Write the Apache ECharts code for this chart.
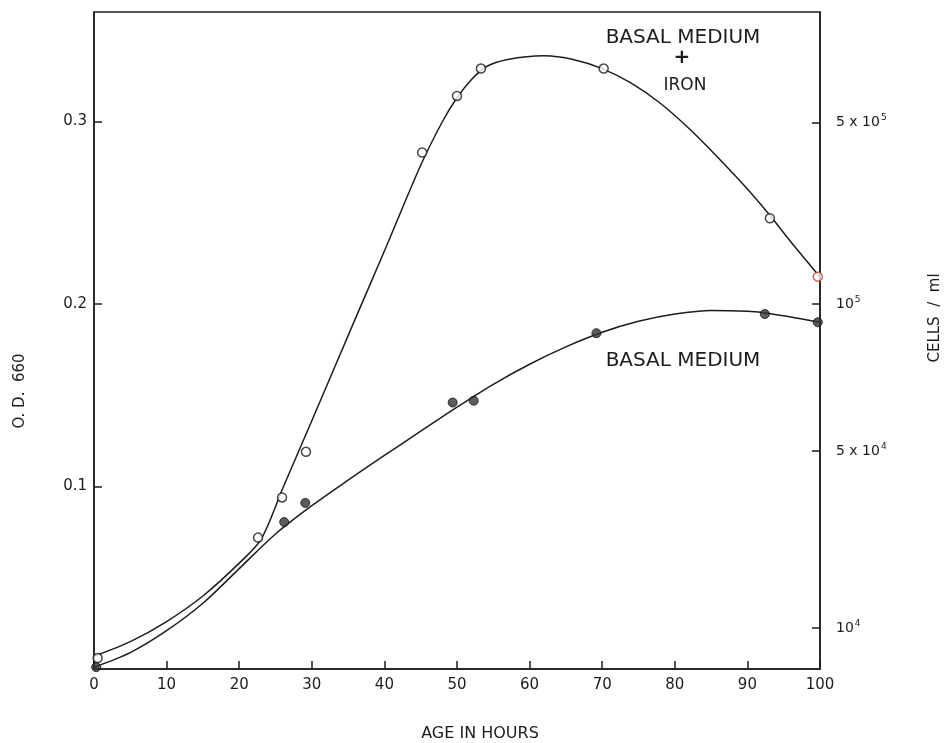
<!DOCTYPE html>
<html>
<head>
<meta charset="utf-8">
<script src="https://cdn.jsdelivr.net/npm/echarts@6/dist/echarts.min.js"></script>
<style>
  html, body { margin: 0; padding: 0; background: #ffffff; }
  #chart { width: 952px; height: 743px; }
</style>
</head>
<body>
<div id="chart"></div>
<script>
// Measured points: basal medium + iron (open circles)
const ironHours = [0.5, 22.6, 25.9, 29.2, 45.2, 50.0, 53.3, 70.2, 93.1, 99.7];
const ironOD    = [0.006, 0.072, 0.094, 0.119, 0.283, 0.314, 0.329, 0.329, 0.247, 0.215];

// Measured points: basal medium (filled circles)
const basalHours = [0.3, 26.2, 29.1, 49.4, 52.3, 69.2, 92.4, 99.7];
const basalOD    = [0.001, 0.0805, 0.091, 0.146, 0.147, 0.184, 0.1945, 0.190];

// Hand-fitted growth curves
const ironCurveHours = [0, 5, 10, 15, 20, 23, 26, 30, 36, 40, 45, 48, 50, 52, 54, 57, 62, 66, 70, 74, 78, 82, 86, 90, 93, 96, 100];
const ironCurveOD    = [0.007, 0.015, 0.026, 0.040, 0.058, 0.071, 0.099, 0.136, 0.192, 0.229, 0.276, 0.300, 0.313, 0.323, 0.330, 0.334, 0.336, 0.334, 0.329, 0.321, 0.310, 0.296, 0.280, 0.263, 0.249, 0.234, 0.2148];

const basalCurveHours = [0, 5, 10, 15, 20, 25, 30, 35, 40, 45, 50, 55, 60, 65, 70, 75, 80, 85, 90, 93, 100];
const basalCurveOD    = [0.001, 0.009, 0.021, 0.036, 0.055, 0.074, 0.0895, 0.1035, 0.117, 0.1303, 0.1435, 0.156, 0.167, 0.1765, 0.1845, 0.1905, 0.1945, 0.1965, 0.196, 0.1948, 0.190];

// Cell-count scale on the right, placed at its O.D. equivalents
const cellTickOD     = [0.0225, 0.1195, 0.2, 0.2995];
const cellTickBase   = ['10', '5 x 10', '10', '5 x 10'];
const cellTickExp    = ['4', '4', '5', '5'];

const odTicks = [0.1, 0.2, 0.3];

const FONT = 'DejaVu Sans';
const INK = '#1c1c1c';

const zip = (xs, ys) => xs.map((x, i) => [x, ys[i]]);

const chart = echarts.init(document.getElementById('chart'), null, { renderer: 'canvas' });

const option = {
  backgroundColor: '#ffffff',
  animation: false,
  grid: {
    left: 94, right: 132, top: 12, bottom: 74,
    show: true, borderColor: INK, borderWidth: 1.5, backgroundColor: 'transparent'
  },
  xAxis: {
    type: 'value', min: 0, max: 100, interval: 10,
    axisLine: { lineStyle: { color: INK, width: 1.5 } },
    axisTick: { inside: true, length: 8, lineStyle: { color: INK, width: 1.5 } },
    axisLabel: { color: INK, fontFamily: FONT, fontSize: 15, margin: 9 },
    splitLine: { show: false }
  },
  yAxis: [
    {
      type: 'value', min: 0, max: 0.36, position: 'left',
      axisLine: { show: true, lineStyle: { color: INK, width: 1.5 } },
      axisTick: { inside: true, length: 8, customValues: odTicks, lineStyle: { color: INK, width: 1.5 } },
      axisLabel: {
        customValues: odTicks,
        color: INK, fontFamily: FONT, fontSize: 15, margin: 7,
        formatter: v => v.toFixed(1)
      },
      splitLine: { show: false }
    },
    {
      type: 'value', min: 0, max: 0.36, position: 'right',
      axisLine: { show: true, lineStyle: { color: INK, width: 1.5 } },
      axisTick: { inside: true, length: 8, customValues: cellTickOD, lineStyle: { color: INK, width: 1.5 } },
      axisLabel: {
        customValues: cellTickOD,
        margin: 16,
        formatter: v => {
          let k = 0, best = Infinity;
          cellTickOD.forEach((t, i) => { const d = Math.abs(t - v); if (d < best) { best = d; k = i; } });
          return '{b|' + cellTickBase[k] + '}{e|' + cellTickExp[k] + '}';
        },
        rich: {
          b: { color: INK, fontFamily: FONT, fontSize: 14 },
          e: { color: INK, fontFamily: FONT, fontSize: 9, padding: [0, 0, 9, 1] }
        }
      },
      splitLine: { show: false }
    }
  ],
  series: [
    {
      name: 'BASAL MEDIUM + IRON curve', type: 'line',
      data: zip(ironCurveHours, ironCurveOD),
      smooth: 0.3, showSymbol: false,
      lineStyle: { color: INK, width: 1.5 }, z: 2
    },
    {
      name: 'BASAL MEDIUM curve', type: 'line',
      data: zip(basalCurveHours, basalCurveOD),
      smooth: 0.3, showSymbol: false,
      lineStyle: { color: INK, width: 1.5 }, z: 2
    },
    {
      name: 'BASAL MEDIUM + IRON', type: 'scatter',
      data: zip(ironHours, ironOD).map((p, i) =>
        i === ironHours.length - 1
          ? { value: p, itemStyle: { borderColor: '#b8493f' } }
          : { value: p }),
      symbol: 'circle', symbolSize: 9,
      itemStyle: { color: '#ffffff', borderColor: INK, borderWidth: 1.5 }, z: 3
    },
    {
      name: 'BASAL MEDIUM', type: 'scatter',
      data: zip(basalHours, basalOD),
      symbol: 'circle', symbolSize: 9,
      itemStyle: { color: '#333333', borderColor: '#111111', borderWidth: 1 }, z: 3
    }
  ],
  graphic: [
    { type: 'text', x: 683, y: 38, style: { text: 'BASAL MEDIUM', fontFamily: FONT, fontSize: 20, fill: INK, align: 'center', verticalAlign: 'middle' } },
    { type: 'text', x: 682, y: 58, style: { text: '+', fontFamily: FONT, fontSize: 20, fontWeight: 'bold', fill: INK, align: 'center', verticalAlign: 'middle' } },
    { type: 'text', x: 685, y: 86, style: { text: 'IRON', fontFamily: FONT, fontSize: 17, fill: INK, align: 'center', verticalAlign: 'middle' } },
    { type: 'text', x: 683, y: 361, style: { text: 'BASAL MEDIUM', fontFamily: FONT, fontSize: 20, fill: INK, align: 'center', verticalAlign: 'middle' } },
    { type: 'text', x: 480, y: 734, style: { text: 'AGE IN HOURS', fontFamily: FONT, fontSize: 16, fill: INK, align: 'center', verticalAlign: 'middle', letterSpacing: 3 } },
    { type: 'text', x: 20, y: 391, rotation: Math.PI / 2, style: { text: 'O. D.  660', fontFamily: FONT, fontSize: 15, fill: INK, align: 'center', verticalAlign: 'middle', letterSpacing: 3.5 } },
    { type: 'text', x: 935, y: 318, rotation: Math.PI / 2, style: { text: 'CELLS  /  ml', fontFamily: FONT, fontSize: 15, fill: INK, align: 'center', verticalAlign: 'middle', letterSpacing: 4 } }
  ]
};

chart.setOption(option);
</script>
</body>
</html>
